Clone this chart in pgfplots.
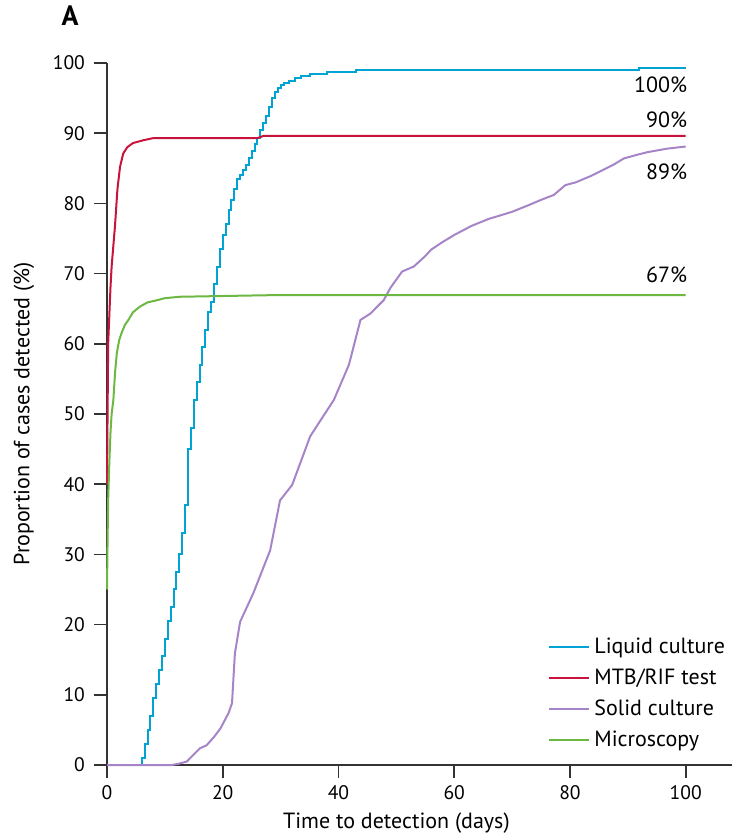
\documentclass[border=0pt]{standalone}
\usepackage{fontspec}
\setmainfont{PT Sans}
\usepackage{pgfplots}
\pgfplotsset{compat=1.18}
\definecolor{cblue}{HTML}{00A3D4}
\definecolor{cred}{HTML}{C8143C}
\definecolor{cpurple}{HTML}{A585C8}
\definecolor{cgreen}{HTML}{6CB843}
\definecolor{caxis}{HTML}{333333}
\begin{document}
\begin{tikzpicture}
\begin{axis}[
  name=ax,
  scale only axis,
  width=312.5pt, height=351pt,
  xmin=0, xmax=108, ymin=0, ymax=100,
  axis lines=left,
  axis line style={caxis, line width=0.8pt, -},
  xtick={0,20,40,60,80,100},
  ytick={0,10,...,100},
  tick style={caxis, line width=0.8pt},
  tick align=outside,
  major tick length=6.5pt,
  every tick label/.append style={font=\fontsize{9.8pt}{11pt}\selectfont},
  yticklabel style={xshift=-1pt},
  /pgf/number format/assume math mode=true,
  clip=false,
  xlabel={Time to detection (days)},
  ylabel={Proportion of cases detected (\%)},
  label style={font=\fontsize{11pt}{13pt}\selectfont},
  xlabel style={at={(axis description cs:0.463,-0.0826)}, anchor=center},
  ylabel style={at={(axis description cs:-0.133,0.5)}, anchor=center},
  legend style={at={(axis cs:76.2,18.8)}, anchor=north west, draw=none, fill=none,
    font=\fontsize{11pt}{13pt}\selectfont, row sep=2.2pt, inner sep=0pt},
  legend cell align=left,
  legend image code/.code={\draw[#1, line width=1pt] (0pt,0pt) -- (20pt,0pt);},
]
\addplot[cblue, line width=1pt, const plot] coordinates {
(0,0) (5.7,0) (6.0,1) (6.5,3) (7.0,5) (7.5,7) (8.0,9.5) (8.5,11.5) (9.0,13.5) (9.5,15.5)
(10.0,18) (10.5,20.5) (11.0,22.5) (11.5,25) (12.0,27.5) (12.5,30) (13.0,33) (13.5,37)
(14.0,45) (14.5,48) (15.0,52) (15.5,54.5) (16.0,57) (16.5,59.5) (17.0,62) (17.5,64.5)
(18.0,66) (18.5,68.5) (19.0,71) (19.5,73.5) (20.0,75.5) (20.5,77) (21.0,79) (21.5,80.5)
(22.0,82) (22.5,83.5) (23.0,84) (23.5,84.8) (24.0,85.5) (24.5,86.5) (25.0,87.5) (25.5,88.5)
(26.0,89.3) (26.5,90.5) (27.0,91.5) (27.5,92.5) (28.0,93.8) (28.5,95) (29.0,95.8) (29.5,96.5)
(30.0,96.8) (30.5,97.1) (31.5,97.5) (32.5,97.9) (33.5,98.2) (35,98.5) (38,98.7) (43,99.0)
(92,99.3) (100,99.3)};
\addlegendentry{Liquid culture}
\addplot[cred, line width=1pt] coordinates {
(0,40) (0.1,50) (0.2,60) (0.4,64) (0.6,68) (0.8,71) (1.0,73) (1.4,77) (1.8,82) (2.25,85.2)
(2.8,87.1) (3.5,88) (4.5,88.6) (6.3,89.0) (8,89.3) (26,89.3) (27,89.6) (100,89.6)};
\addlegendentry{MTB/RIF test}
\addplot[cpurple, line width=1pt] coordinates {
(0,0) (11.2,0) (12.5,0.2) (13.8,0.5) (15,1.5) (16.1,2.4) (17.2,2.8) (18.5,4) (19.6,5.2)
(21.0,7.4) (21.6,8.8) (22.1,15.9) (23.0,20.4) (25.3,24.5) (28.2,30.6) (29.9,37.7) (32.0,39.9)
(35.1,46.8) (36.9,49.1) (39.2,52.0) (41.8,57.0) (43.8,63.4) (45.5,64.3) (47.8,66.2) (49,68)
(51,70.3) (53,71) (55,72.5) (56,73.4) (58,74.5) (60,75.5) (63,76.8) (66,77.8) (70,78.8)
(73,79.8) (75,80.5) (77.2,81.2) (79.2,82.6) (81,83.0) (83.6,83.9) (85.8,84.8) (87.5,85.5)
(89.3,86.4) (91.5,86.9) (93.4,87.3) (96.8,87.8) (100,88.1)};
\addlegendentry{Solid culture}
\addplot[cgreen, line width=1pt] coordinates {
(0,25) (0.1,32) (0.2,37.7) (0.4,43) (0.6,47.3) (0.8,50) (1.1,52) (1.4,56) (1.7,58.7)
(2.1,60.5) (2.5,61.5) (3.1,62.7) (3.7,63.4) (4.5,64.5) (5.7,65.3) (7,65.9) (8.6,66.2)
(10,66.5) (12.6,66.7) (30,66.95) (100,66.95)};
\addlegendentry{Microscopy}
\node[anchor=east, inner sep=0pt, font=\fontsize{11pt}{13pt}\selectfont] at (axis cs:100.3,96.9) {100\%};
\node[anchor=east, inner sep=0pt, font=\fontsize{11pt}{13pt}\selectfont] at (axis cs:100.3,91.9) {90\%};
\node[anchor=east, inner sep=0pt, font=\fontsize{11pt}{13pt}\selectfont] at (axis cs:100.3,84.5) {89\%};
\node[anchor=east, inner sep=0pt, font=\fontsize{11pt}{13pt}\selectfont] at (axis cs:100.3,69.8) {67\%};
\node[font=\fontsize{14pt}{16pt}\selectfont\bfseries] at (axis description cs:-0.059,1.068) {A};
\end{axis}
\pgfresetboundingbox
\path ([shift={(-53.5pt,-34.5pt)}]ax.south west) rectangle ([shift={(312.5pt,382.5pt)}]ax.south west);
\end{tikzpicture}
\end{document}
